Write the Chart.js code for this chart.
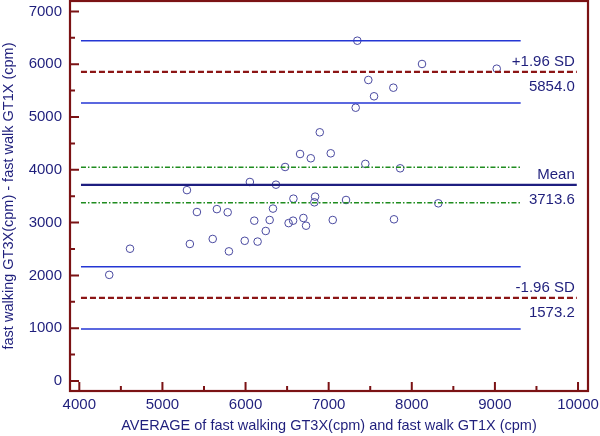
<!DOCTYPE html>
<html>
<head>
<meta charset="utf-8">
<script src="https://cdn.jsdelivr.net/npm/chart.js@4.4.1/dist/chart.umd.min.js"></script>
<style>
  html, body { margin: 0; padding: 0; background: #ffffff; }
  #wrap { width: 600px; height: 436px; position: relative; }
</style>
</head>
<body>
<div id="wrap"><canvas id="c" width="600" height="436"></canvas></div>
<script>
// ---- data ----
const avgX = [4360, 4610, 5330, 5415, 5295, 5655, 5785, 5605, 5800, 5990,
              6105, 6290, 6330, 6243, 6145, 6518, 6572, 6696, 6728, 7049,
              7786, 6656, 6785, 7025, 6476, 7441, 6052, 6366, 6576, 6837,
              6828, 7209, 7345, 7477, 7778, 7546, 7325, 6893, 8123, 9022,
              7860, 8319];
const diffY = [2010, 2505, 2595, 3200, 3615, 3255, 3195, 2690, 2455, 2655,
               3036, 3049, 3265, 2841, 2640, 2990, 3036, 3087, 2941, 3049,
               3062, 4299, 4218, 4312, 4053, 4112, 3769, 3718, 3453, 3491,
               3384, 3428, 6445, 5701, 5555, 5392, 5176, 4710, 6004, 5915,
               4028, 3365];
const meanDiff = 3713.6;
const upperLoA = 5854.0;
const lowerLoA = 1573.2;
const meanCI = [3378, 4049];
const upperCI = [5264, 6444];
const lowerCI = [983, 2163];
const lineX = [4020, 9985];     // extent of mean / limit lines
const ciX = [4020, 9310];       // extent of confidence interval lines
const xTicks = [4000, 5000, 6000, 7000, 8000, 9000, 10000];
const xMinor = [4500, 5500, 6500, 7500, 8500, 9500];
const yTicks = [0, 1000, 2000, 3000, 4000, 5000, 6000, 7000];
const yMinor = [500, 1500, 2500, 3500, 4500, 5500, 6500];
const xTitle = 'AVERAGE of fast walking GT3X(cpm) and fast walk GT1X (cpm)';
const yTitle = 'fast walking GT3X(cpm) - fast walk GT1X (cpm)';

// ---- styles ----
const FONT = "Arial, 'Liberation Sans', sans-serif";
const TXT = '#1f1f7c';
const FRAME = '#7b1214';
const PT = '#4a4aa0';
const CI_BLUE = '#2436d4';
const MEAN_C = '#1e1e80';
const RED = '#8c1515';
const GREEN = '#1f8c1f';

function hLine(y, xs, color, width, dash) {
  return {
    type: 'line',
    data: [{x: xs[0], y: y}, {x: xs[1], y: y}],
    borderColor: color, borderWidth: width, borderDash: dash || [],
    pointRadius: 0, showLine: true, fill: false, order: 0, tension: 0
  };
}

const points = avgX.map((v, i) => ({x: v, y: diffY[i]}));

const datasets = [
  { type: 'scatter', data: points, pointStyle: 'circle', pointRadius: 3.8,
    pointBorderColor: PT, pointBackgroundColor: 'rgba(0,0,0,0)', pointBorderWidth: 1,
    showLine: false, order: 10 },
  hLine(upperCI[1], ciX, CI_BLUE, 1.5),
  hLine(upperCI[0], ciX, CI_BLUE, 1.5),
  hLine(lowerCI[1], ciX, CI_BLUE, 1.5),
  hLine(lowerCI[0], ciX, CI_BLUE, 1.5),
  hLine(meanCI[1], ciX, GREEN, 1.5, [5, 2, 1.5, 2]),
  hLine(meanCI[0], ciX, GREEN, 1.5, [5, 2, 1.5, 2]),
  hLine(upperLoA, lineX, RED, 2.2, [6, 3]),
  hLine(lowerLoA, lineX, RED, 2.2, [6, 3]),
  hLine(meanDiff, lineX, MEAN_C, 2.2)
];

const framePlugin = {
  id: 'frameTicks',
  afterDatasetsDraw(chart) {
    const {ctx, chartArea: a, scales: {x, y}} = chart;
    ctx.save();
    ctx.strokeStyle = FRAME;
    ctx.lineWidth = 2;
    ctx.beginPath();
    xTicks.forEach(v => { const p = x.getPixelForValue(v); ctx.moveTo(p, a.bottom); ctx.lineTo(p, a.bottom - 9); });
    xMinor.forEach(v => { const p = x.getPixelForValue(v); ctx.moveTo(p, a.bottom); ctx.lineTo(p, a.bottom - 5); });
    yTicks.forEach(v => { const p = y.getPixelForValue(v); ctx.moveTo(a.left, p); ctx.lineTo(a.left + 9, p); });
    yMinor.forEach(v => { const p = y.getPixelForValue(v); ctx.moveTo(a.left, p); ctx.lineTo(a.left + 5, p); });
    ctx.stroke();
    ctx.lineWidth = 2.2;
    ctx.strokeRect(a.left, a.top, a.right - a.left, a.bottom - a.top);

    // limit labels
    ctx.fillStyle = TXT;
    ctx.font = '15px ' + FONT;
    ctx.textAlign = 'right';
    ctx.textBaseline = 'alphabetic';
    const rx = x.getPixelForValue(lineX[1]) - 2;
    const lab = [
      ['+1.96 SD', upperLoA.toFixed(1), upperLoA],
      ['Mean', meanDiff.toFixed(1), meanDiff],
      ['-1.96 SD', lowerLoA.toFixed(1), lowerLoA]
    ];
    lab.forEach(([t, n, v]) => {
      const py = y.getPixelForValue(v);
      ctx.fillText(t, rx, py - 6);
      ctx.fillText(n, rx, py + 19);
    });
    ctx.restore();
  }
};

new Chart(document.getElementById('c'), {
  type: 'scatter',
  data: { datasets },
  options: {
    responsive: false,
    animation: false,
    devicePixelRatio: 1,
    layout: { autoPadding: false, padding: { top: 1, right: 12, left: 0, bottom: 0 } },
    plugins: { legend: { display: false }, tooltip: { enabled: false } },
    scales: {
      x: {
        type: 'linear', min: 3888, max: 10120,
        afterFit: s => { s.height = 45; s.paddingLeft = 0; s.paddingRight = 0; s.paddingTop = 0; s.paddingBottom = 0; },
        afterBuildTicks: s => { s.ticks = xTicks.map(v => ({value: v})); },
        grid: { display: false, drawTicks: false },
        border: { display: false },
        ticks: { color: TXT, font: { family: FONT, size: 15 }, padding: 5, maxRotation: 0, autoSkip: false,
                 callback: v => String(v) },
        title: { display: true, text: xTitle, color: TXT, font: { family: FONT, size: 14.5 },
                 padding: { top: 0, bottom: 1 } }
      },
      y: {
        type: 'linear', min: -190, max: 7197,
        afterFit: s => { s.width = 70; s.paddingTop = 0; s.paddingBottom = 0; s.paddingLeft = 0; s.paddingRight = 0; },
        afterBuildTicks: s => { s.ticks = yTicks.map(v => ({value: v})); },
        grid: { display: false, drawTicks: false },
        border: { display: false },
        ticks: { color: TXT, font: { family: FONT, size: 15 }, padding: 8, autoSkip: false,
                 callback: v => String(v) },
        title: { display: true, text: yTitle, color: TXT, font: { family: FONT, size: 14.5 },
                 padding: { top: 0, bottom: 0 } }
      }
    }
  },
  plugins: [framePlugin]
});
</script>
</body>
</html>
